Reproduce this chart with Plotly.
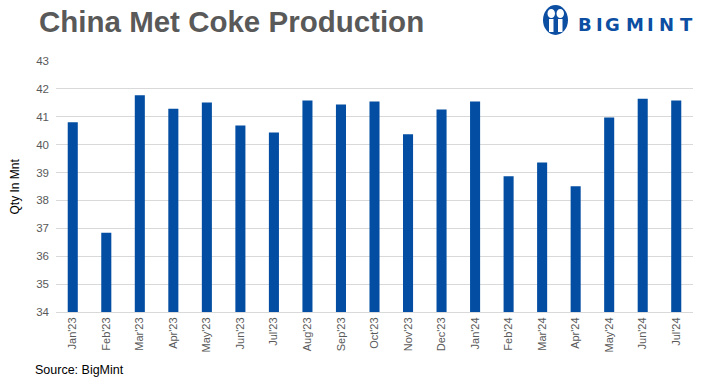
import plotly.graph_objects as go

months = ["Jan'23", "Feb'23", "Mar'23", "Apr'23", "May'23", "Jun'23", "Jul'23", "Aug'23",
          "Sep'23", "Oct'23", "Nov'23", "Dec'23", "Jan'24", "Feb'24", "Mar'24", "Apr'24",
          "May'24", "Jun'24", "Jul'24"]
production = [40.80, 36.84, 41.77, 41.29, 41.51, 40.69, 40.44, 41.58, 41.44, 41.55,
              40.37, 41.26, 41.55, 38.87, 39.36, 38.51, 40.97, 41.65, 41.58]
y_ticks = [34, 35, 36, 37, 38, 39, 40, 41, 42, 43]
logo_letters = ["B", "I", "G", "M", "I", "N", "T"]

W, H = 705, 383
ML, MR, MT, MB = 56, 12, 61, 71

BAR = "#034EA2"
GRAY = "#595959"
LOGO = "#0B4EA2"

fig = go.Figure(go.Bar(x=months, y=production, marker=dict(color=BAR, line=dict(width=0))))

def px(x):
    return (x - ML) / (W - ML - MR)

def py(y):
    return 1 - (y - MT) / (H - MT - MB)

shapes = []
# logo icon
shapes.append(dict(type="circle", xref="paper", yref="paper",
                   x0=px(543), x1=px(568), y0=py(35), y1=py(5),
                   fillcolor=LOGO, line=dict(width=0), layer="above"))
shapes.append(dict(type="circle", xref="paper", yref="paper",
                   x0=px(547.5), x1=px(555), y0=py(18), y1=py(9),
                   fillcolor="white", line=dict(width=0), layer="above"))
shapes.append(dict(type="circle", xref="paper", yref="paper",
                   x0=px(556.5), x1=px(564), y0=py(18), y1=py(9),
                   fillcolor="white", line=dict(width=0), layer="above"))
shapes.append(dict(type="rect", xref="paper", yref="paper",
                   x0=px(549), x1=px(553.5), y0=py(32), y1=py(19),
                   fillcolor="white", line=dict(width=0), layer="above"))
shapes.append(dict(type="rect", xref="paper", yref="paper",
                   x0=px(558), x1=px(562.5), y0=py(32), y1=py(19),
                   fillcolor="white", line=dict(width=0), layer="above"))

annotations = [
    dict(text="<b>China Met Coke Production</b>", xref="paper", yref="paper",
         x=px(37), y=py(22), xanchor="left", yanchor="middle", showarrow=False,
         font=dict(family="Liberation Sans, Arial", size=29.5, color=GRAY)),
    dict(text="Source: BigMint", xref="paper", yref="paper",
         x=px(33), y=py(370), xanchor="left", yanchor="middle", showarrow=False,
         font=dict(family="Liberation Sans, Arial", size=12.5, color="black")),
    dict(text="Qty In Mnt", xref="paper", yref="paper",
         x=px(14), y=0.5, xanchor="center", yanchor="middle", showarrow=False, textangle=-90,
         font=dict(family="Liberation Sans, Arial", size=12, color="black")),
]
letter_x = [585, 599.5, 612.5, 634.5, 650, 666, 686.5]
for ch, lx in zip(logo_letters, letter_x):
    annotations.append(dict(text="<b>%s</b>" % ch, xref="paper", yref="paper",
                            x=px(lx), y=py(25), xanchor="center", yanchor="middle",
                            showarrow=False,
                            font=dict(family="DejaVu Sans", size=18, color=LOGO)))

fig.update_layout(
    width=W, height=H,
    margin=dict(l=ML, r=MR, t=MT, b=MB),
    paper_bgcolor="white", plot_bgcolor="white",
    bargap=0.70,
    showlegend=False,
    shapes=shapes,
    annotations=annotations,
    xaxis=dict(tickangle=-90, tickfont=dict(family="Liberation Sans, Arial", size=11, color=GRAY),
               showline=True, linecolor="#D9D9D9", linewidth=1, ticks="", showgrid=False),
    yaxis=dict(range=[34, 43], tickvals=y_ticks, showgrid=True, gridcolor="#D9D9D9", gridwidth=1,
               zeroline=False, tickfont=dict(family="Liberation Sans, Arial", size=11.5, color=GRAY),
               ticklabelstandoff=6, automargin=False,
               ticks="", showline=False),
)

fig.write_html("out.html", config={"displayModeBar": False},
               post_script="document.body.style.margin='0';")
